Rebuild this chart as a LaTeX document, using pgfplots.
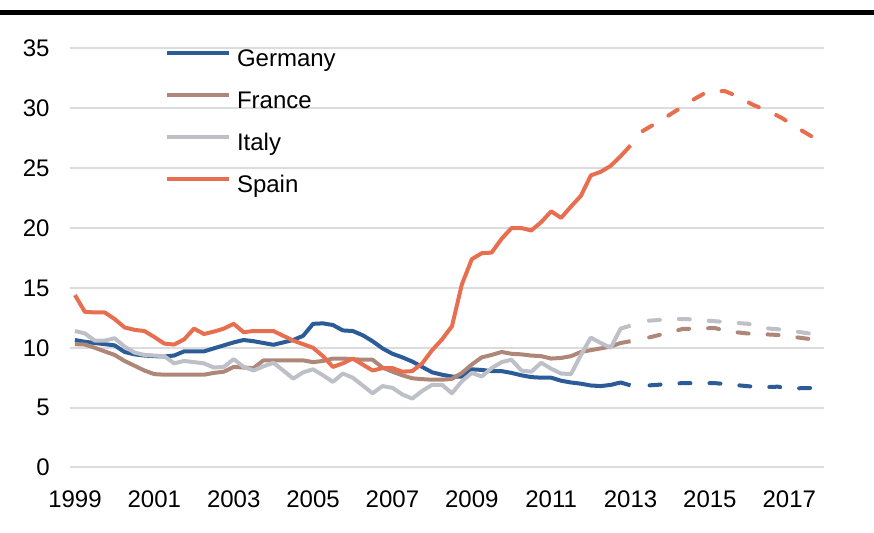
\documentclass[border=0pt]{standalone}
\usepackage{pgfplots}
\pgfplotsset{compat=1.18}
\usepackage{pgfplotstable}
\usepackage{fontspec}
\setmainfont{Liberation Sans}
\definecolor{cde}{HTML}{2B5C98}
\definecolor{cfr}{HTML}{AF8778}
\definecolor{cit}{HTML}{BEC0C8}
\definecolor{ces}{HTML}{E86E50}
\definecolor{gridc}{HTML}{DCDCDC}

\pgfplotstableread{
t de fr it es
1999.00 10.65 10.30 11.40 14.40
1999.25 10.50 10.27 11.20 13.00
1999.50 10.40 10.00 10.60 12.95
1999.75 10.30 9.70 10.60 12.95
2000.00 10.20 9.40 10.80 12.40
2000.25 9.65 8.90 10.10 11.70
2000.50 9.45 8.50 9.60 11.50
2000.75 9.35 8.10 9.40 11.40
2001.00 9.30 7.80 9.35 10.90
2001.25 9.27 7.75 9.30 10.35
2001.50 9.35 7.75 8.70 10.27
2001.75 9.70 7.75 8.90 10.70
2002.00 9.70 7.75 8.80 11.60
2002.25 9.70 7.75 8.70 11.15
2002.50 9.95 7.90 8.35 11.35
2002.75 10.20 8.00 8.40 11.60
2003.00 10.45 8.40 9.05 12.00
2003.25 10.65 8.35 8.40 11.30
2003.50 10.55 8.30 8.10 11.40
2003.75 10.40 8.95 8.45 11.40
2004.00 10.25 8.95 8.75 11.40
2004.25 10.45 8.95 8.10 11.00
2004.50 10.65 8.95 7.42 10.60
2004.75 11.00 8.95 7.95 10.30
2005.00 12.00 8.80 8.20 10.00
2005.25 12.04 8.90 7.70 9.30
2005.50 11.90 9.10 7.15 8.40
2005.75 11.45 9.10 7.85 8.70
2006.00 11.40 9.05 7.50 9.10
2006.25 11.05 9.00 6.85 8.60
2006.50 10.55 9.00 6.20 8.10
2006.75 9.95 8.35 6.80 8.30
2007.00 9.50 8.00 6.65 8.30
2007.25 9.20 7.70 6.10 8.00
2007.50 8.85 7.45 5.75 8.05
2007.75 8.40 7.38 6.40 8.70
2008.00 7.95 7.33 6.90 9.80
2008.25 7.75 7.33 6.90 10.70
2008.50 7.60 7.40 6.20 11.80
2008.75 7.60 7.90 7.20 15.30
2009.00 8.20 8.60 7.90 17.40
2009.25 8.15 9.20 7.60 17.90
2009.50 8.05 9.40 8.30 17.95
2009.75 8.05 9.65 8.80 19.10
2010.00 7.90 9.50 9.00 20.00
2010.25 7.70 9.45 8.10 20.00
2010.50 7.55 9.35 8.00 19.80
2010.75 7.50 9.30 8.75 20.50
2011.00 7.50 9.10 8.25 21.40
2011.25 7.25 9.15 7.85 20.85
2011.50 7.10 9.30 7.80 21.80
2011.75 7.00 9.65 9.40 22.70
2012.00 6.85 9.80 10.85 24.40
2012.25 6.80 9.95 10.40 24.70
2012.50 6.90 10.10 10.00 25.20
2012.75 7.10 10.40 11.60 26.00
2013.00 6.86 10.55 11.85 26.90
}\actual

\pgfplotstableread{
t v
2013.00 6.86
2013.48 6.86
2014.31 7.05
2015.12 7.05
2015.93 6.80
2016.25 6.70
2016.71 6.75
2017.00 6.60
2017.69 6.65
}\fde

\pgfplotstableread{
t v
2013.00 10.55
2013.48 10.87
2013.82 11.15
2014.31 11.57
2014.65 11.60
2015.12 11.65
2015.46 11.37
2015.93 11.20
2016.25 11.15
2016.71 11.07
2017.00 10.95
2017.69 10.66
}\ffr

\pgfplotstableread{
t v
2013.00 11.85
2013.45 12.26
2014.03 12.40
2014.40 12.40
2015.20 12.20
2015.96 12.00
2016.50 11.60
2016.90 11.50
2017.69 11.10
}\fit

\pgfplotstableread{
t v
2013.00 26.90
2013.25 28.00
2013.56 28.60
2013.91 29.30
2014.24 30.00
2014.62 30.80
2014.94 31.40
2015.37 31.45
2015.70 31.00
2016.08 30.30
2016.46 29.80
2016.81 29.20
2017.19 28.40
2017.69 27.40
}\fes

\begin{document}
\begin{tikzpicture}
\begin{axis}[
  at={(0,0)}, anchor=south west,
  width=377pt, height=209.5pt, scale only axis,
  xmin=1998.875, xmax=2017.875, ymin=0, ymax=35,
  xtick={1999,2001,2003,2005,2007,2009,2011,2013,2015,2017},
  ytick={0,5,10,15,20,25,30,35},
  axis line style={draw=none},
  major tick length=0pt,
  ymajorgrids,
  grid style={draw=gridc, line width=1pt},
  tick label style={font=\fontsize{12}{14}\selectfont, text=black},
  /pgf/number format/1000 sep={},
  /pgf/number format/assume math mode=true,
  yticklabel style={anchor=east, inner sep=0pt, xshift=-10pt},
  xticklabel style={anchor=north, inner sep=0pt, yshift=-11.5pt},
  legend style={draw=none, fill=none, inner sep=0pt,
    at={(axis description cs:0.126,1.0)}, anchor=north west,
    font=\fontsize{12}{14}\selectfont, row sep=9.5pt, column sep=2.8pt,
    nodes={inner sep=0pt, text height=9pt, text depth=2.5pt}},
  legend cell align=left,
  legend image code/.code={\draw[#1, solid] (0pt,3.5pt) -- (31pt,3.5pt);},
  every axis plot/.append style={line width=2pt, line join=round},
  fc/.style={dash pattern=on 5.5pt off 9.5pt, dash phase=5.5pt, line cap=round},
]
\addplot[cde, no marks] table[x=t, y=de] {\actual};
\addlegendentry{Germany}
\addplot[cfr, no marks] table[x=t, y=fr] {\actual};
\addlegendentry{France}
\addplot[cit, no marks] table[x=t, y=it] {\actual};
\addlegendentry{Italy}
\addplot[ces, no marks] table[x=t, y=es] {\actual};
\addlegendentry{Spain}
\addplot[cde, no marks, fc, forget plot] table[x=t, y=v] {\fde};
\addplot[cfr, no marks, fc, forget plot] table[x=t, y=v] {\ffr};
\addplot[cit, no marks, fc, forget plot] table[x=t, y=v] {\fit};
\addplot[ces, no marks, fc, forget plot] table[x=t, y=v] {\fes};
\end{axis}
\draw[line width=2.5pt] (-35pt,227.5pt) -- (402pt,227.5pt);
\pgfresetboundingbox
\useasboundingbox (-35pt,-32.75pt) rectangle (402pt,233.75pt);
\end{tikzpicture}
\end{document}
